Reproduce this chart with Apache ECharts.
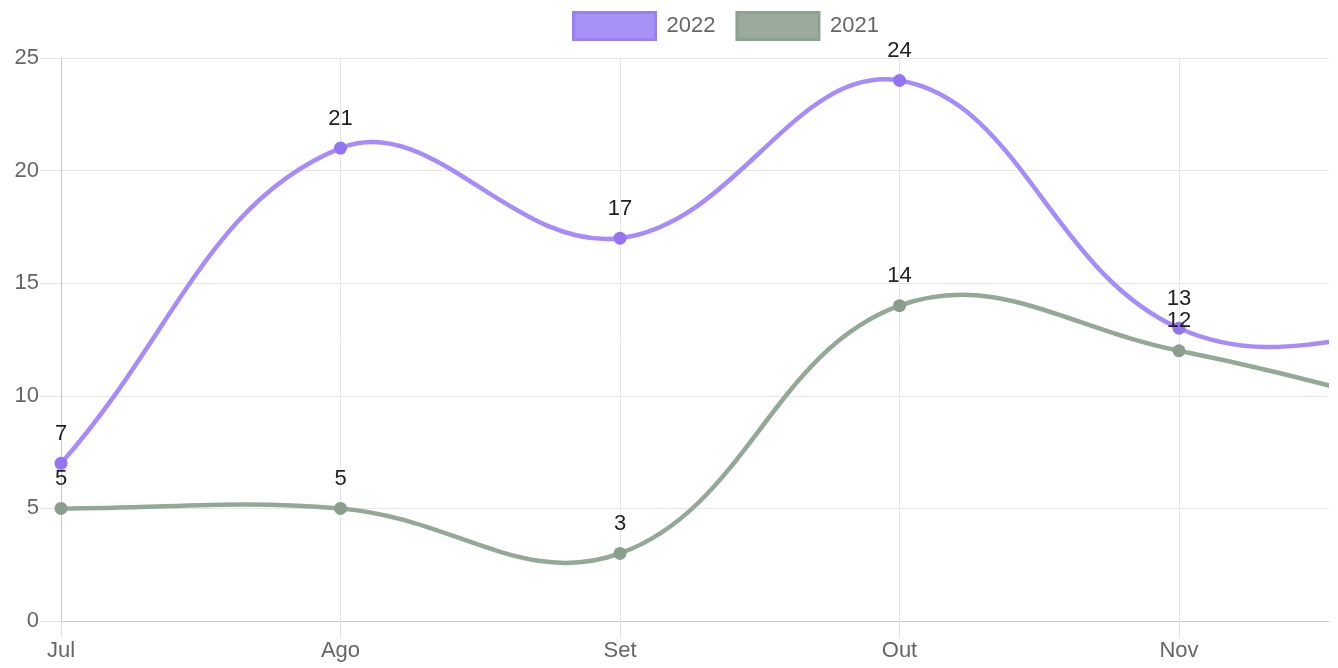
<!DOCTYPE html>
<html lang="pt" style="height: 100%">
<head>
    <meta charset="UTF-8">
    <title>2022 x 2021</title>
    <script src="https://cdn.jsdelivr.net/npm/echarts@6/dist/echarts.min.js"></script>
</head>
<body style="height: 100%; margin: 0; overflow: hidden; background: #fff">
<!-- o gráfico é mais largo que a janela: Dez fica cortado à direita -->
<div style="width: 1329px; height: 668px; overflow: hidden">
    <div id="main" style="width: 1470px; height: 668px"></div>
</div>
<script>
    var meses = ['Jul', 'Ago', 'Set', 'Out', 'Nov', 'Dez'];
    var dados2022 = [7, 21, 17, 24, 13, 13];
    var dados2021 = [5, 5, 3, 14, 12, 9];
    var yTicks = [0, 5, 10, 15, 20, 25];

    var fonte = 'Arial, "Liberation Sans", sans-serif';
    var tensao = 0.4;

    // curva bezier no estilo do Chart.js (tension 0.4), pontos vindos de api.coord
    function curva(dados, cor) {
        return function (params, api) {
            if (params.dataIndex !== 0) return;
            var cs = params.coordSys;
            var pts = dados.map(function (v, i) { return api.coord([i, v]); });
            var cpA = [], cpD = [];
            for (var i = 0; i < pts.length; i++) {
                var cur = pts[i];
                var prev = pts[i - 1] || cur;
                var next = pts[i + 1] || cur;
                var d01 = Math.hypot(cur[0] - prev[0], cur[1] - prev[1]);
                var d12 = Math.hypot(next[0] - cur[0], next[1] - cur[1]);
                var s01 = d01 / (d01 + d12) || 0;
                var s12 = d12 / (d01 + d12) || 0;
                var fa = tensao * s01, fb = tensao * s12;
                var dx = next[0] - prev[0], dy = next[1] - prev[1];
                var lim = function (y) { return Math.max(cs.y, Math.min(cs.y + cs.height, y)); };
                cpA.push([cur[0] - fa * dx, lim(cur[1] - fa * dy)]);
                cpD.push([cur[0] + fb * dx, lim(cur[1] + fb * dy)]);
            }
            var d = 'M' + pts[0][0] + ' ' + pts[0][1];
            for (var j = 1; j < pts.length; j++) {
                d += ' C' + cpD[j - 1][0] + ' ' + cpD[j - 1][1] + ' ' +
                    cpA[j][0] + ' ' + cpA[j][1] + ' ' + pts[j][0] + ' ' + pts[j][1];
            }
            return {
                type: 'path',
                shape: {pathData: d},
                style: {fill: 'none', stroke: cor, lineWidth: 4.5, lineJoin: 'round'}
            };
        };
    }

    function linha(nome, dados, cor) {
        return {
            name: nome + ' curva',
            type: 'custom',
            coordinateSystem: 'cartesian2d',
            clip: true,
            z: 2,
            data: dados.map(function (v, i) { return [i, v]; }),
            encode: {x: 0, y: 1},
            renderItem: curva(dados, cor)
        };
    }

    function pontos(nome, dados, corPonto) {
        return {
            name: nome,
            type: 'line',
            z: 3,
            data: dados,
            symbol: 'circle',
            symbolSize: 13,
            showAllSymbol: true,
            lineStyle: {opacity: 0},
            itemStyle: {color: corPonto, borderWidth: 0},
            label: {
                show: true,
                position: 'top',
                distance: 12,
                color: '#1f1f1f',
                fontSize: 22,
                fontFamily: fonte
            }
        };
    }

    var myoption = {
        animation: false,
        backgroundColor: '#fff',
        legend: {
            left: 567,
            top: 6,
            itemWidth: 82,
            itemHeight: 27,
            itemGap: 20,
            icon: 'rect',
            textStyle: {color: '#666', fontSize: 22, fontFamily: fonte, padding: [0, 0, 0, 6]},
            data: [
                {name: '2022', itemStyle: {color: '#a791f5', borderColor: '#9b7ff7', borderWidth: 3}},
                {name: '2021', itemStyle: {color: '#9aab9e', borderColor: '#8da190', borderWidth: 3}}
            ]
        },
        grid: {left: 61, right: 11.5, top: 58, bottom: 47, containLabel: false, outerBoundsMode: 'none'},
        xAxis: {
            type: 'category',
            data: meses,
            boundaryGap: false,
            axisLine: {lineStyle: {color: '#c8c8c8', width: 1}},
            axisTick: {show: true, length: 17, lineStyle: {color: '#e2e2e2'}},
            axisLabel: {color: '#666', fontSize: 22, fontFamily: fonte, margin: 19},
            splitLine: {show: true, lineStyle: {color: '#e6e6e6', width: 1}}
        },
        yAxis: {
            type: 'value',
            min: yTicks[0],
            max: yTicks[yTicks.length - 1],
            interval: 5,
            axisLine: {show: true, lineStyle: {color: '#c8c8c8', width: 1}},
            axisTick: {show: true, length: 21, lineStyle: {color: '#e2e2e2'}},
            axisLabel: {color: '#666', fontSize: 22, fontFamily: fonte, margin: 22},
            splitLine: {show: true, lineStyle: {color: '#e6e6e6', width: 1}}
        },
        series: [
            linha('2021', dados2021, '#94a898'),
            linha('2022', dados2022, '#a78bfa'),
            pontos('2021', dados2021, '#8a9e8e'),
            pontos('2022', dados2022, '#9474f2')
        ]
    };
    var myChart = echarts.init(document.getElementById('main'));
    myChart.setOption(myoption);
</script>
</body>
</html>
